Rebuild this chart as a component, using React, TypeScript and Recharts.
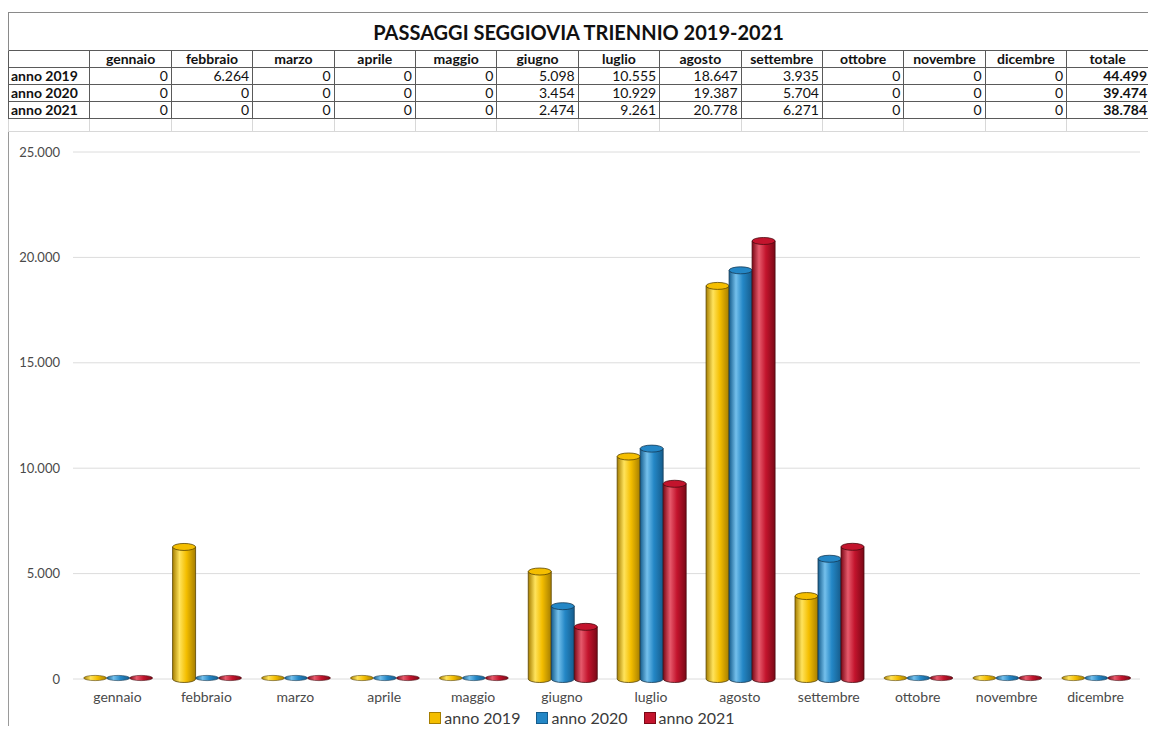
import { BarChart, Bar, XAxis, YAxis, CartesianGrid, Legend } from 'recharts';

const months = [
  'gennaio', 'febbraio', 'marzo', 'aprile', 'maggio', 'giugno',
  'luglio', 'agosto', 'settembre', 'ottobre', 'novembre', 'dicembre',
];
const anno2019 = [0, 6264, 0, 0, 0, 5098, 10555, 18647, 3935, 0, 0, 0];
const anno2020 = [0, 0, 0, 0, 0, 3454, 10929, 19387, 5704, 0, 0, 0];
const anno2021 = [0, 0, 0, 0, 0, 2474, 9261, 20778, 6271, 0, 0, 0];
const seriesNames = ['anno 2019', 'anno 2020', 'anno 2021'];
const yTicks = [0, 5000, 10000, 15000, 20000, 25000];

const seriesValues = [anno2019, anno2020, anno2021];

const palette = [
  { base: '#F4BE00', light: '#FFE35C', dark: '#A67E00', edge: '#5a4500' },
  { base: '#2487C6', light: '#74C0EC', dark: '#155C8C', edge: '#143a55' },
  { base: '#C3142D', light: '#E65A6C', dark: '#7A0816', edge: '#4a0a10' },
];

const fmt = (n: number) => String(n).replace(/\B(?=(\d{3})+(?!\d))/g, '.');

const data = months.map((m, i) => ({
  month: m,
  a2019: anno2019[i],
  a2020: anno2020[i],
  a2021: anno2021[i],
}));
const keys = ['a2019', 'a2020', 'a2021'];

const FONT = 'Lato, "Open Sans", sans-serif';

function makeCylinder(idx: number) {
  return (props: any) => {
    const { x, y, width, height } = props;
    const c = palette[idx];
    const rx = width / 2;
    const cx = x + rx;
    const grad = `url(#cyl${idx})`;
    if (!height || height < 2) {
      const base = y + (height || 0);
      return (
        <ellipse cx={cx} cy={base - 1} rx={rx} ry={2.6} fill={grad} stroke={c.edge} strokeWidth={0.6} />
      );
    }
    const ry = 3.5;
    const bottom = y + height;
    const d = `M${x},${y} L${x},${bottom} A${rx},${ry} 0 0 0 ${x + width},${bottom} L${x + width},${y} Z`;
    return (
      <g>
        <path d={d} fill={grad} stroke={c.edge} strokeWidth={0.8} />
        <ellipse cx={cx} cy={y} rx={rx} ry={ry} fill={c.base} stroke={c.edge} strokeWidth={0.8} />
      </g>
    );
  };
}

const renderLegend = (props: any) => (
  <div style={{ display: 'flex', justifyContent: 'center', gap: 16, paddingLeft: 16, fontSize: 16, lineHeight: '18px', color: '#3a3a3a', fontFamily: FONT }}>
    {(props.payload || []).map((p: any, i: number) => (
      <span key={i} style={{ display: 'flex', alignItems: 'center' }}>
        <span style={{ width: 10, height: 10, background: palette[i].base, border: `1px solid ${palette[i].dark}`, marginRight: 3, display: 'inline-block' }} />
        {p.value}
      </span>
    ))}
  </div>
);

const cell: React.CSSProperties = {
  border: '1px solid #5a5a5a',
  padding: '0 3px',
  height: 16,
  lineHeight: '16px',
  fontSize: 14,
  overflow: 'hidden',
  whiteSpace: 'nowrap',
};

export default function App() {
  const totals = seriesValues.map((s) => s.reduce((a, b) => a + b, 0));
  return (
    <div style={{ position: 'relative', width: 1140, height: 718, overflow: 'hidden', background: '#fff', fontFamily: FONT, color: '#111' }}>
      <div style={{ position: 'absolute', left: 0, top: 4, width: 1, bottom: 0, background: '#9a9a9a' }} />
      <table style={{ position: 'absolute', top: 4, left: 0, borderCollapse: 'collapse', tableLayout: 'fixed', width: 1140 }}>
        <colgroup>
          {Array.from({ length: 14 }).map((_, i) => (
            <col key={i} style={{ width: 81.4 }} />
          ))}
        </colgroup>
        <tbody>
          <tr>
            <td colSpan={14} style={{ borderTop: '1px solid #8a8a8a', borderLeft: '1px solid #8a8a8a', borderRight: 'none', textAlign: 'center', fontWeight: 700, fontSize: 20, height: 34, paddingTop: 2 }}>
              PASSAGGI SEGGIOVIA TRIENNIO 2019-2021
            </td>
          </tr>
          <tr>
            <td style={{ ...cell }} />
            {months.map((m) => (
              <td key={m} style={{ ...cell, textAlign: 'center', fontWeight: 700 }}>{m}</td>
            ))}
            <td style={{ ...cell, textAlign: 'center', fontWeight: 700, borderRight: 'none' }}>totale</td>
          </tr>
          {seriesNames.map((name, r) => (
            <tr key={name}>
              <td style={{ ...cell, fontWeight: 700, paddingLeft: 2 }}>{name}</td>
              {seriesValues[r].map((v, i) => (
                <td key={i} style={{ ...cell, textAlign: 'right' }}>{fmt(v)}</td>
              ))}
              <td style={{ ...cell, textAlign: 'right', fontWeight: 700, paddingRight: 1, borderRight: 'none' }}>{fmt(totals[r])}</td>
            </tr>
          ))}
          <tr>
            {Array.from({ length: 14 }).map((_, i) => (
              <td key={i} style={{ ...cell, height: 12, border: '1px solid #d8d8d8', borderTop: '1px solid #5a5a5a' }} />
            ))}
          </tr>
        </tbody>
      </table>

      <div style={{ position: 'absolute', top: 135, left: 0 }}>
        <BarChart
          width={1148}
          height={584}
          data={data}
          margin={{ top: 9, right: 16, bottom: 0, left: 0 }}
          barCategoryGap="12%"
          barGap={0}
        >
          <defs>
            {palette.map((c, i) => (
              <linearGradient key={i} id={`cyl${i}`} x1="0" y1="0" x2="1" y2="0">
                <stop offset="0%" stopColor={c.dark} />
                <stop offset="30%" stopColor={c.light} />
                <stop offset="60%" stopColor={c.base} />
                <stop offset="100%" stopColor={c.dark} />
              </linearGradient>
            ))}
          </defs>
          <CartesianGrid vertical={false} stroke="#dcdcdc" />
          <XAxis
            dataKey="month"
            axisLine={false}
            tickLine={false}
            tickMargin={7}
            height={30}
            tick={{ fill: '#4a4a4a', fontSize: 14, fontFamily: FONT }}
          />
          <YAxis
            domain={[0, 25000]}
            ticks={yTicks}
            axisLine={false}
            tickLine={false}
            tickSize={0}
            tickMargin={13}
            width={65}
            tickFormatter={fmt}
            tick={{ fill: '#4a4a4a', fontSize: 13, fontFamily: FONT }}
          />
          <Legend verticalAlign="bottom" content={renderLegend} />
          {keys.map((k, i) => (
            <Bar
              key={k}
              dataKey={k}
              name={seriesNames[i]}
              fill={palette[i].base}
              shape={makeCylinder(i)}
              isAnimationActive={false}
            />
          ))}
        </BarChart>
      </div>
    </div>
  );
}
